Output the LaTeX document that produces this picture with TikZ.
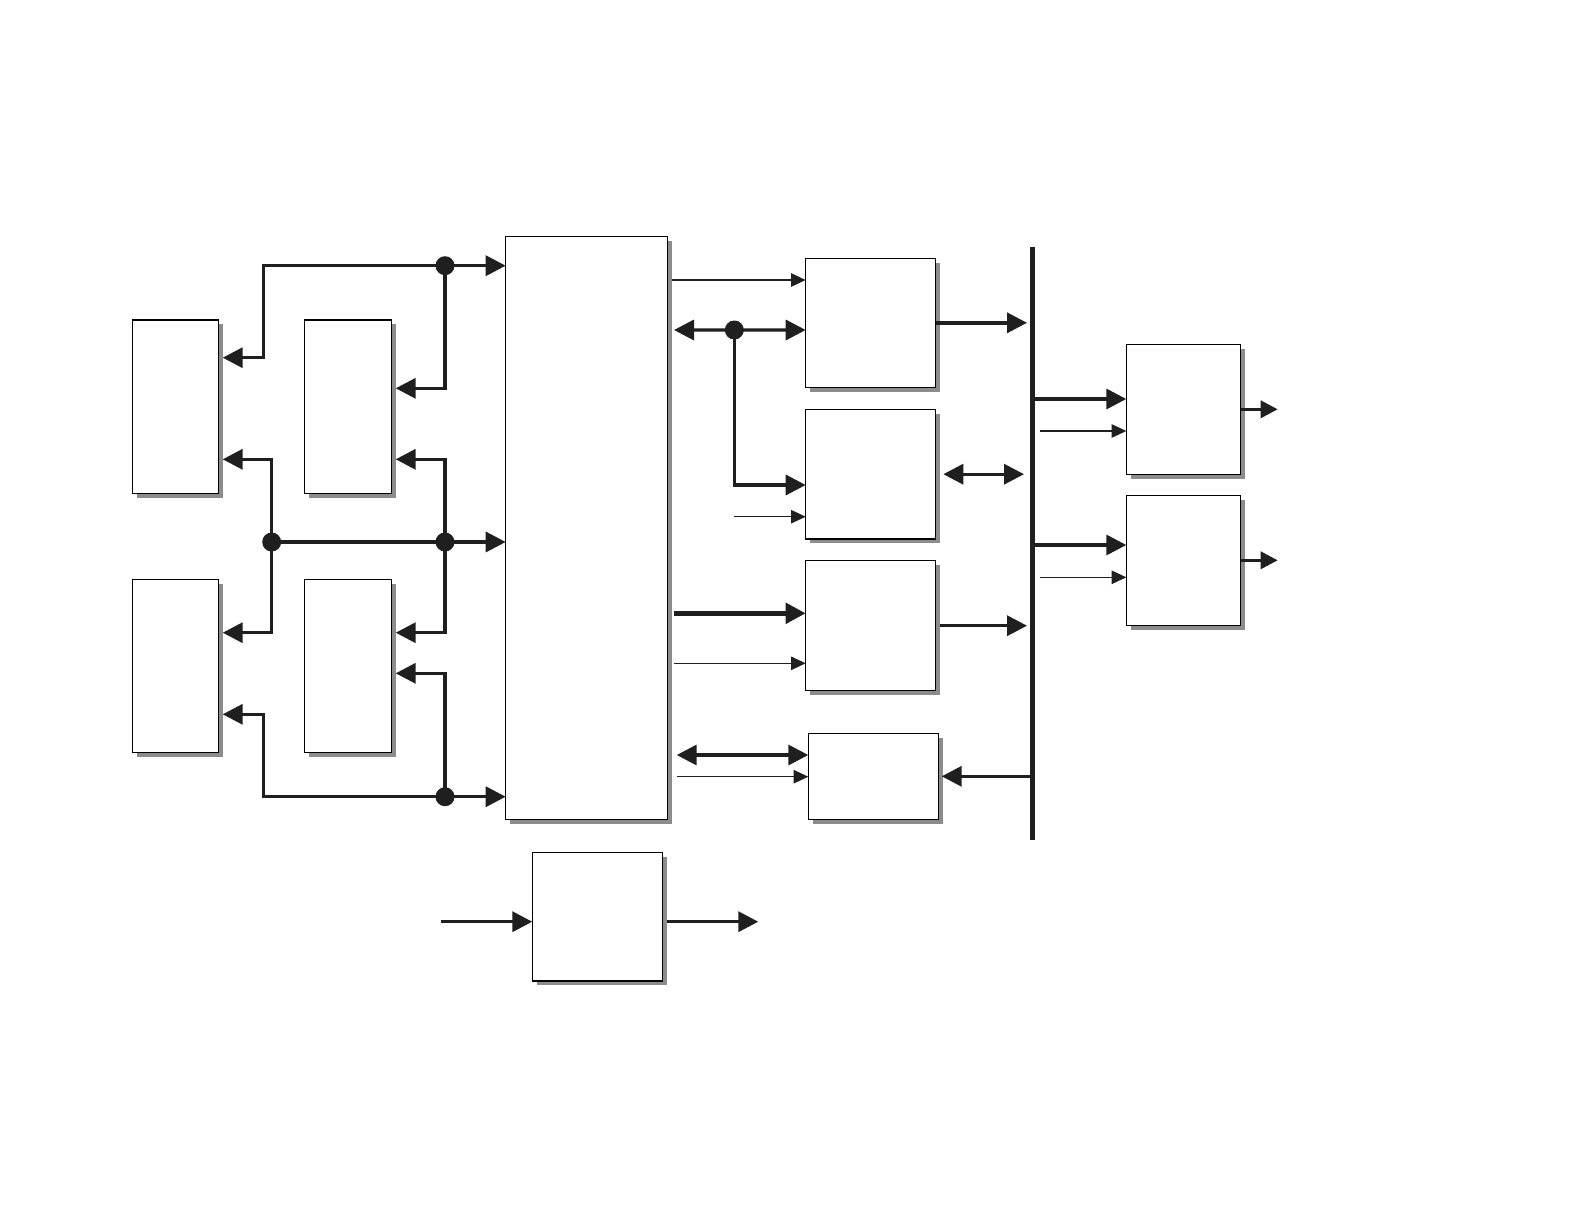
\documentclass[tikz,border=0pt]{standalone}
\usetikzlibrary{arrows.meta,shadows}
\begin{document}
\begin{tikzpicture}[x=0.5pt,y=-0.5pt,
  box/.style={draw, line width=0.6pt, fill=white, inner sep=0pt, outer sep=0pt,
    drop shadow={shadow xshift=2.2pt, shadow yshift=-2.2pt, fill=black!45, opacity=1}},
  thk/.style={line width=1.7pt, draw=black!88, >={Triangle[length=10pt,width=10pt]}},
  vthk/.style={line width=2.6pt, draw=black!88, >={Triangle[length=10pt,width=10pt]}},
  med/.style={line width=1.7pt, draw=black!88, >={Triangle[length=8.5pt,width=8.5pt]}},
  thn/.style={line width=0.55pt, draw=black!88, >={Triangle[length=7.3pt,width=6.7pt]}},
  jdot/.style={circle, fill=black!88, inner sep=0pt, minimum size=9.5pt},
  bus/.style={line width=2.8pt, draw=black!88}]
\useasboundingbox (0,0) rectangle (1588,1220);

% boxes
\node[box, minimum width=43.2pt, minimum height=86.65pt] (A) at (175.5,406.7) {};
\node[box, minimum width=43.7pt, minimum height=86.65pt] (B) at (348,406.7) {};
\node[box, minimum width=43.2pt, minimum height=86.5pt] (C) at (175.5,665.8) {};
\node[box, minimum width=43.7pt, minimum height=86.5pt] (D) at (348,665.8) {};
\node[box, minimum width=81pt, minimum height=291.3pt] (M) at (586.7,528) {};
\node[box, minimum width=65pt, minimum height=64.5pt] (E) at (870.7,322.8) {};
\node[box, minimum width=65pt, minimum height=64.85pt] (F) at (870.7,474.2) {};
\node[box, minimum width=65pt, minimum height=65pt] (G) at (870.7,625.7) {};
\node[box, minimum width=65pt, minimum height=43pt] (H) at (873.3,776.3) {};
\node[box, minimum width=57.2pt, minimum height=65pt] (I) at (1183.5,409.3) {};
\node[box, minimum width=57.2pt, minimum height=65pt] (J) at (1183.5,560.3) {};
\node[box, minimum width=65pt, minimum height=64.35pt] (K) at (597.3,916.7) {};

% junctions
\coordinate (jt) at (445,265.7);
\coordinate (jm1) at (271.7,542);
\coordinate (jm2) at (445,542);
\coordinate (jb) at (445,796.7);
\coordinate (jr) at (734.3,330);
\coordinate (fthin) at (734.3,516.7);
\coordinate (bt) at (1032.3,246.7);
\coordinate (bb) at (1032.3,840);
\coordinate (bl) at (1029,0);
\coordinate (tl) at (1040,0);
\coordinate (Io) at (1277.7,409.3);
\coordinate (Jo) at (1277.7,560.3);
\coordinate (Ki) at (440.7,921.7);
\coordinate (Ko) at (758.3,921.7);

% left section
\draw[thk,->] (jt) -| (263.3,357.7) -- ([shift={(4,-49)}]A.east);
\draw[thk,->] (jt) -- (jt -| M.west);
\draw[thk,->] (jt) |- ([shift={(4,-18.4)}]B.east);
\draw[thk,->] (jm1) |- ([shift={(4,52.6)}]A.east);
\draw[thk,->] (jm1) |- ([shift={(4,-33.1)}]C.east);
\draw[thk] (jm1) -- (jm2);
\draw[thk,->] (jm2) -- (jm2 -| M.west);
\draw[thk,->] (jm2) |- ([shift={(4,52.6)}]B.east);
\draw[thk,->] (jm2) |- ([shift={(4,-33.1)}]D.east);
\draw[thk,->] (jb) |- ([shift={(4,7.5)}]D.east);
\draw[thk,->] (jb) -| (263.3,714.3) -- ([shift={(4,48.5)}]C.east);
\draw[thk,->] (jb) -- (jb -| M.west);

% middle section
\draw[thn,->] ([shift={(4,-248)}]M.east) -- ([shift={(0,-42.8)}]E.west);
\draw[thk,<->] ([shift={(6.3,-198)}]M.east) -- ([shift={(0,7.2)}]E.west);
\draw[thk,->] (jr) |- ([shift={(0,10.8)}]F.west);
\draw[thn,->] (fthin) -- ([shift={(0,42.5)}]F.west);
\draw[vthk,->] ([shift={(6.3,85.3)}]M.east) -- ([shift={(0,-12.4)}]G.west);
\draw[thn,->] ([shift={(6.3,135.3)}]M.east) -- ([shift={(0,37.6)}]G.west);
\draw[thk,<->] ([shift={(9,227)}]M.east) -- ([shift={(0,-21.3)}]H.west);
\draw[thn,->] ([shift={(9,248.7)}]M.east) -- ([shift={(0,0.4)}]H.west);

% bus
\draw[bus] (bt) -- (bb);
\draw[thk,->] (E.east) -- ([xshift=-1pt]E.east -| bl);
\draw[thk,<->] ([xshift=3.8pt]F.east) -- ([xshift=-2.5pt]F.east -| bl);
\draw[thk,->] ([xshift=2pt]G.east) -- ([xshift=-1pt]G.east -| bl);
\draw[thk,->] (H.east -| bt) -- ([xshift=1.7pt]H.east);
\draw[thk,->] ([shift={(0,-10.3)}]I.west -| bt) -- ([shift={(0,-10.3)}]I.west);
\draw[thn,->] ([shift={(0,21.7)}]I.west -| tl) -- ([shift={(0,21.7)}]I.west);
\draw[thk,->] ([shift={(0,-15.3)}]J.west -| bt) -- ([shift={(0,-15.3)}]J.west);
\draw[thn,->] ([shift={(0,17)}]J.west -| tl) -- ([shift={(0,17)}]J.west);
\draw[med,->] (I.east) -- (Io);
\draw[med,->] (J.east) -- (Jo);

% bottom box
\draw[thk,->] (Ki) -- ([shift={(0,5)}]K.west);
\draw[thk,->] ([shift={(4.4,5)}]K.east) -- (Ko);

% dots
\node[jdot] (djt) at (jt) {};
\node[jdot] (djm1) at (jm1) {};
\node[jdot] (djm2) at (jm2) {};
\node[jdot] (djb) at (jb) {};
\node[jdot] (djr) at (jr) {};
\end{tikzpicture}
\end{document}
